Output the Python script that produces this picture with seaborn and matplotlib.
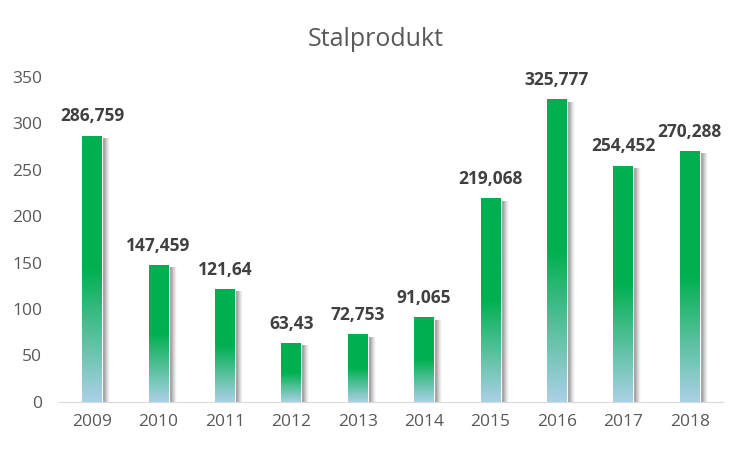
import numpy as np
import pandas as pd
import matplotlib.pyplot as plt
import seaborn as sns
from matplotlib.colors import LinearSegmentedColormap

years = ["2009", "2010", "2011", "2012", "2013", "2014", "2015", "2016", "2017", "2018"]
values = [286.759, 147.459, 121.64, 63.43, 72.753, 91.065, 219.068, 325.777, 254.452, 270.288]
labels = ["286,759", "147,459", "121,64", "63,43", "72,753", "91,065", "219,068", "325,777", "254,452", "270,288"]

df = pd.DataFrame({"year": years, "value": values})

sns.set_style("white")
plt.rcParams['font.family'] = ['Open Sans', 'DejaVu Sans']

fig = plt.figure(figsize=(7.51, 4.51), dpi=100)
ax = fig.add_axes([0.0786, 0.109, 0.884, 0.7206])

sns.barplot(data=df, x="year", y="value", color="#00b050", width=0.30, ax=ax, zorder=3)

# gradient: light blue at the bottom to green at mid-height, solid green above
cmap = LinearSegmentedColormap.from_list("g", ["#abd0e6", "#00b050", "#00b050"], N=256)
grad = np.linspace(0, 1, 256)[:, None]
shade = LinearSegmentedColormap.from_list("s", [(0.3, 0.3, 0.3, 0.8), (0.55, 0.55, 0.55, 0.0)])
for p in ax.patches:
    x0, w, h = p.get_x(), p.get_width(), p.get_height()
    im = ax.imshow(grad, cmap=cmap, aspect="auto", origin="lower",
                   extent=(x0, x0 + w, 0, h), zorder=4)
    im.set_clip_path(p)
    # soft shadow to the right of each bar
    ax.imshow(np.linspace(0, 1, 64)[None, :], cmap=shade, aspect="auto", origin="lower",
              extent=(x0 + w, x0 + w + 0.11, -1.5, h - 3), zorder=2, interpolation="bilinear")

for i, (v, lab) in enumerate(zip(values, labels)):
    ax.text(i, v + 11, lab, ha="center", va="bottom", fontsize=12.5, fontweight="bold", color="#404040")

ax.set_xlim(-0.5, 9.5)
ax.set_ylim(0, 350)
ax.set_yticks(range(0, 351, 50))
ax.set_xlabel("")
ax.set_ylabel("")
ax.tick_params(axis="both", length=0, labelsize=12.5, labelcolor="#595959")
ax.tick_params(axis="x", pad=9)
ax.tick_params(axis="y", pad=12)
for s in ["top", "right", "left"]:
    ax.spines[s].set_visible(False)
ax.spines["bottom"].set_color("#d9d9d9")
ax.spines["bottom"].set_zorder(5)

fig.suptitle("Stalprodukt", y=0.94, fontsize=18, color="#595959")

fig.savefig("out.png", dpi=100)
